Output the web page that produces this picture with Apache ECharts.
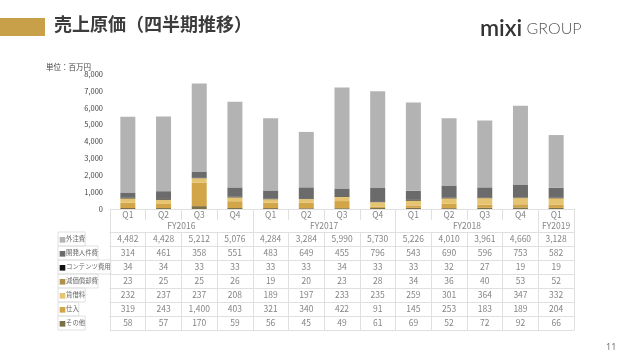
<!DOCTYPE html>
<html><head><meta charset="utf-8">
<script src="https://cdn.jsdelivr.net/npm/echarts@6/dist/echarts.min.js"></script>
<style>html,body{margin:0;padding:0;background:#fff}#c{width:640px;height:360px}</style>
</head><body><div id="c"></div><script>
// ---- data ----
const categories = ['Q1','Q2','Q3','Q4','Q1','Q2','Q3','Q4','Q1','Q2','Q3','Q4','Q1'];
const fyLabels = ['FY2016','FY2017','FY2018','FY2019'];
const fyQuarterCounts = [4,4,4,1];
const seriesNames = ['外注費','開発人件費','コンテンツ費用','減価償却費','賃借料','仕入','その他'];
const gaichu    = [4482,4428,5212,5076,4284,3284,5990,5730,5226,4010,3961,4660,3128];
const kaihatsu  = [314,461,358,551,483,649,455,796,543,690,596,753,582];
const contents  = [34,34,33,33,33,33,34,33,33,32,27,19,19];
const genka     = [23,25,25,26,19,20,23,28,34,36,40,53,52];
const chinshaku = [232,237,237,208,189,197,233,235,259,301,364,347,332];
const shiire    = [319,243,1400,403,321,340,422,91,145,253,183,189,204];
const sonota    = [58,57,170,59,56,45,49,61,69,52,72,92,66];
const yTicks = [0,1000,2000,3000,4000,5000,6000,7000,8000];

// ---- styles ----
const rowValues = [gaichu,kaihatsu,contents,genka,chinshaku,shiire,sonota];
const colors = ['#b3b3b3','#6b6b6b','#111111','#b0914a','#e6c572','#d2a548','#7c7046'];
const lineC = '#e0e0e0';
const textC = '#858585';
const FONT = '"Noto Sans CJK JP", "Noto Sans", sans-serif';
const fmt = v => v.toLocaleString('en-US');

// fiscal year boundaries/centers in category units
const fyBounds = [0]; const fyCenters = [];
fyQuarterCounts.reduce((acc, n) => { fyCenters.push(acc + n/2); fyBounds.push(acc + n); return acc + n; }, 0);

const ROW_H = 14, HEAD_H = 23;
const xAxes = [
  { type:'category', data:categories, position:'bottom',
    axisLine:{show:true,lineStyle:{color:lineC}},
    axisTick:{show:true,length:11,lineStyle:{color:lineC}},
    axisLabel:{margin:6,verticalAlign:'middle',fontSize:8.5,color:textC,fontFamily:FONT} },
  { type:'value', min:0, max:categories.length, position:'bottom', offset:11,
    splitLine:{show:false}, axisLine:{show:false},
    axisTick:{show:true,length:12,customValues:fyBounds,lineStyle:{color:lineC}},
    axisLabel:{customValues:fyCenters,margin:6,verticalAlign:'middle',fontSize:8.5,color:textC,fontFamily:FONT,
      formatter:(v)=>{const i=fyCenters.findIndex(c=>Math.abs(c-v)<1e-6);return i>=0?fyLabels[i]:'';}} }
];
rowValues.forEach((vals,k)=>{
  xAxes.push({ type:'category', position:'bottom', offset:HEAD_H+ROW_H*k,
    data: vals.map(fmt),
    axisLine:{show:true,lineStyle:{color:lineC}},
    axisTick:{show:true,length:ROW_H,lineStyle:{color:lineC}},
    axisLabel:{interval:0,margin:7,verticalAlign:'middle',fontSize:8.5,color:textC,fontFamily:FONT},
    name:'{sq|■}'+seriesNames[k], nameLocation:'start', nameGap:52,
    nameTextStyle:{align:'left',verticalAlign:'top',width:51,height:ROW_H,lineHeight:ROW_H,padding:[0,0,0,1],
      overflow:'none',borderColor:lineC,borderWidth:1,fontSize:6.4,color:'#666',fontFamily:FONT,
      rich:{sq:{color:colors[k],fontSize:7,lineHeight:ROW_H}}}
  });
});
xAxes.push({ type:'category', position:'bottom', offset:HEAD_H+ROW_H*rowValues.length, data:categories,
  axisLine:{show:true,lineStyle:{color:lineC}}, axisTick:{show:false}, axisLabel:{show:false} });

// stacked bottom-up: その他 ... 外注費
const stackOrder = [6,5,4,3,2,1,0];
const series = stackOrder.map(k=>({
  name:seriesNames[k], type:'bar', stack:'cost', xAxisIndex:0, yAxisIndex:0,
  data:rowValues[k], barWidth:15, itemStyle:{color:colors[k]}, emphasis:{disabled:true}
}));

const chart = echarts.init(document.getElementById('c'),null,{renderer:'canvas'});
chart.setOption({
  animation:false,
  textStyle:{fontFamily:FONT},
  grid:{left:110,right:66,top:74,bottom:151,containLabel:false},
  xAxis:xAxes,
  yAxis:{type:'value',min:yTicks[0],max:yTicks[yTicks.length-1],interval:yTicks[1]-yTicks[0],
    splitLine:{show:false},axisLine:{show:false},axisTick:{show:false},
    axisLabel:{fontSize:7.5,color:'#444',margin:7,formatter:v=>fmt(v),fontFamily:FONT}},
  series:series,
  graphic:[
    {type:'rect',left:0,top:18,shape:{width:45,height:18},style:{fill:'#c9a04a'}},
    {type:'text',left:54,top:15,style:{text:'売上原価（四半期推移）',font:'bold 18px "Noto Sans CJK JP"',fill:'#3c3c3c'}},
    {type:'text',left:480,top:17,style:{text:'{m|mixi}{g| GROUP}',rich:{
      m:{fontSize:23,fontFamily:'Lato',fontWeight:600,fill:'#333'},
      g:{fontSize:16,fontFamily:'Lato',fontWeight:300,fill:'#555'}}}},
    {type:'text',left:46,top:63,style:{text:'単位：百万円',font:'7.5px "Noto Sans CJK JP"',fill:'#444'}},
    {type:'text',left:606,top:343,style:{text:'11',font:'9px "Noto Sans"',fill:'#777'}}
  ]
});
</script></body></html>
